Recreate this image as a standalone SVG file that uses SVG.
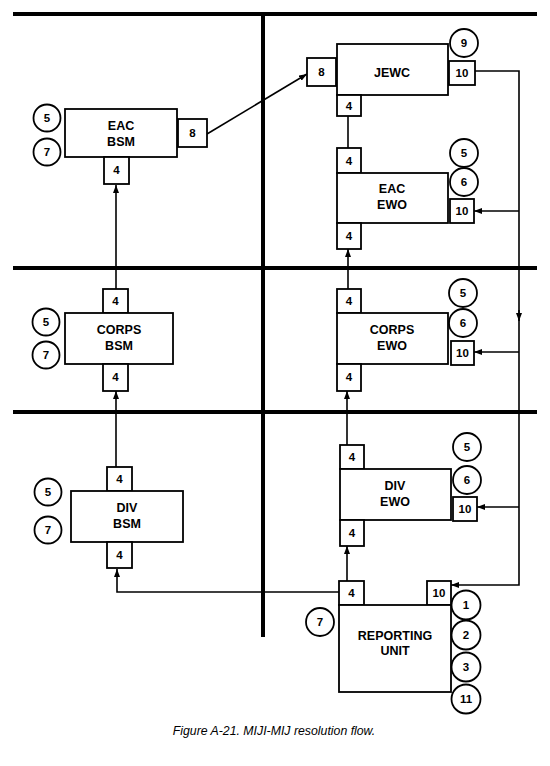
<svg xmlns="http://www.w3.org/2000/svg" width="550" height="766" viewBox="0 0 550 766">
<style>
.sep{stroke:#000;stroke-width:4;fill:none}
.box{fill:#fff;stroke:#000;stroke-width:1.8}
.port{fill:#fff;stroke:#000;stroke-width:1.8}
.circ{fill:#fff;stroke:#000;stroke-width:1.8}
.conn{stroke:#000;stroke-width:1.6;fill:none}
.lbl{font-family:"Liberation Sans",Arial,sans-serif;font-weight:bold;font-size:12.5px;text-anchor:middle;fill:#000}
.num{font-family:"Liberation Sans",Arial,sans-serif;font-weight:bold;font-size:11.5px;text-anchor:middle;fill:#000}
.cap{font-family:"Liberation Sans",Arial,sans-serif;font-style:italic;font-size:12.3px;text-anchor:middle;fill:#000}
</style>
<defs>
<marker id="arr" markerUnits="userSpaceOnUse" markerWidth="8" markerHeight="6" refX="8" refY="3" orient="auto">
<path d="M0,0 L8,3 L0,6 z" fill="#000"/>
</marker>
</defs>
<rect width="550" height="766" fill="#fff"/>
<g id="separators">
<line class="sep" x1="13" y1="14" x2="537" y2="14"/>
<line class="sep" x1="13" y1="268" x2="537" y2="268"/>
<line class="sep" x1="13" y1="412" x2="537" y2="412"/>
<line class="sep" x1="263" y1="14" x2="263" y2="637"/>
</g>
<g id="connectors">
<line class="conn" x1="207" y1="134" x2="307" y2="74" marker-end="url(#arr)"/>
<line class="conn" x1="348" y1="115" x2="348" y2="148"/>
<line class="conn" x1="348" y1="289" x2="348" y2="249" marker-end="url(#arr)"/>
<line class="conn" x1="347" y1="445" x2="347" y2="391" marker-end="url(#arr)"/>
<line class="conn" x1="347" y1="581" x2="347" y2="546" marker-end="url(#arr)"/>
<polyline class="conn" points="339,592 117,592 117,569" marker-end="url(#arr)"/>
<line class="conn" x1="116" y1="467" x2="116" y2="391" marker-end="url(#arr)"/>
<line class="conn" x1="116" y1="289" x2="116" y2="185" marker-end="url(#arr)"/>
<polyline class="conn" points="475,71 519,71 519,585 451,585" marker-end="url(#arr)"/>
<line class="conn" x1="519" y1="310" x2="519" y2="321" marker-end="url(#arr)"/>
<line class="conn" x1="519" y1="211" x2="474" y2="211" marker-end="url(#arr)"/>
<line class="conn" x1="519" y1="352" x2="474" y2="352" marker-end="url(#arr)"/>
<line class="conn" x1="519" y1="507" x2="477" y2="507" marker-end="url(#arr)"/>
</g>
<g id="eac-bsm">
<rect class="box" x="65" y="109" width="112" height="48"/>
<text class="lbl" x="121" y="130">EAC</text>
<text class="lbl" x="121" y="146">BSM</text>
<rect class="port" x="178" y="119" width="29" height="28"/>
<text class="num" x="192.5" y="137">8</text>
<rect class="port" x="104" y="157" width="25" height="27"/>
<text class="num" x="116.5" y="174">4</text>
<circle class="circ" cx="47" cy="118" r="13.5"/>
<text class="num" x="47" y="122">5</text>
<circle class="circ" cx="47" cy="152" r="13.5"/>
<text class="num" x="47" y="156">7</text>
</g>
<g id="jewc">
<rect class="box" x="337" y="44" width="111" height="51"/>
<text class="lbl" x="392" y="77">JEWC</text>
<rect class="port" x="307" y="58" width="29" height="28"/>
<text class="num" x="321.5" y="76">8</text>
<circle class="circ" cx="464" cy="43" r="14"/>
<text class="num" x="464" y="47">9</text>
<rect class="port" x="449" y="61" width="26" height="24"/>
<text class="num" x="462" y="77">10</text>
<rect class="port" x="337" y="95" width="24" height="21"/>
<text class="num" x="349" y="110">4</text>
</g>
<g id="eac-ewo">
<rect class="port" x="337" y="148" width="24" height="25"/>
<text class="num" x="349" y="165">4</text>
<rect class="box" x="337" y="173" width="111" height="50"/>
<text class="lbl" x="392" y="193">EAC</text>
<text class="lbl" x="392" y="209">EWO</text>
<circle class="circ" cx="464" cy="153" r="14"/>
<text class="num" x="464" y="157">5</text>
<circle class="circ" cx="464" cy="182" r="14"/>
<text class="num" x="464" y="186">6</text>
<rect class="port" x="450" y="199" width="24" height="24"/>
<text class="num" x="462" y="215">10</text>
<rect class="port" x="337" y="223" width="24" height="26"/>
<text class="num" x="349" y="240">4</text>
</g>
<g id="corps-bsm">
<rect class="port" x="103" y="289" width="25" height="24"/>
<text class="num" x="115.5" y="305">4</text>
<rect class="box" x="65" y="313" width="108" height="51"/>
<text class="lbl" x="119" y="334">CORPS</text>
<text class="lbl" x="119" y="350">BSM</text>
<rect class="port" x="103" y="364" width="25" height="27"/>
<text class="num" x="115.5" y="381">4</text>
<circle class="circ" cx="46" cy="322" r="13.5"/>
<text class="num" x="46" y="326">5</text>
<circle class="circ" cx="46" cy="355" r="13.5"/>
<text class="num" x="46" y="359">7</text>
</g>
<g id="corps-ewo">
<rect class="port" x="337" y="289" width="24" height="24"/>
<text class="num" x="349" y="305">4</text>
<rect class="box" x="337" y="313" width="111" height="51"/>
<text class="lbl" x="392" y="334">CORPS</text>
<text class="lbl" x="392" y="350">EWO</text>
<circle class="circ" cx="463" cy="293" r="14"/>
<text class="num" x="463" y="297">5</text>
<circle class="circ" cx="463" cy="323" r="14"/>
<text class="num" x="463" y="327">6</text>
<rect class="port" x="451" y="341" width="23" height="24"/>
<text class="num" x="462.5" y="357">10</text>
<rect class="port" x="337" y="364" width="24" height="27"/>
<text class="num" x="349" y="381">4</text>
</g>
<g id="div-bsm">
<rect class="port" x="107" y="467" width="25" height="24"/>
<text class="num" x="119.5" y="483">4</text>
<rect class="box" x="71" y="491" width="112" height="51"/>
<text class="lbl" x="127" y="512">DIV</text>
<text class="lbl" x="127" y="528">BSM</text>
<rect class="port" x="107" y="542" width="25" height="26"/>
<text class="num" x="119.5" y="559">4</text>
<circle class="circ" cx="48" cy="492" r="13.5"/>
<text class="num" x="48" y="496">5</text>
<circle class="circ" cx="48" cy="530" r="13.5"/>
<text class="num" x="48" y="534">7</text>
</g>
<g id="div-ewo">
<rect class="port" x="340" y="445" width="24" height="24"/>
<text class="num" x="352" y="461">4</text>
<rect class="box" x="340" y="469" width="111" height="51"/>
<text class="lbl" x="395" y="490">DIV</text>
<text class="lbl" x="395" y="506">EWO</text>
<circle class="circ" cx="467" cy="447" r="14"/>
<text class="num" x="467" y="451">5</text>
<circle class="circ" cx="467" cy="480" r="14"/>
<text class="num" x="467" y="484">6</text>
<rect class="port" x="453" y="497" width="24" height="24"/>
<text class="num" x="465" y="513">10</text>
<rect class="port" x="340" y="520" width="24" height="26"/>
<text class="num" x="352" y="537">4</text>
</g>
<g id="reporting-unit">
<rect class="port" x="339" y="581" width="25" height="24"/>
<text class="num" x="351.5" y="597">4</text>
<rect class="port" x="427" y="581" width="24" height="24"/>
<text class="num" x="439" y="597">10</text>
<rect class="box" x="339" y="605" width="112" height="87"/>
<text class="lbl" x="395" y="640">REPORTING</text>
<text class="lbl" x="395" y="655">UNIT</text>
<circle class="circ" cx="320" cy="622" r="14"/>
<text class="num" x="320" y="626">7</text>
<circle class="circ" cx="466" cy="605" r="14.5"/>
<text class="num" x="466" y="609">1</text>
<circle class="circ" cx="466" cy="635" r="14.5"/>
<text class="num" x="466" y="639">2</text>
<circle class="circ" cx="466" cy="667" r="14.5"/>
<text class="num" x="466" y="671">3</text>
<circle class="circ" cx="466" cy="699" r="14.5"/>
<text class="num" x="466" y="703">11</text>
</g>
<text class="cap" x="274" y="735">Figure A-21. MIJI-MIJ resolution flow.</text>
</svg>
